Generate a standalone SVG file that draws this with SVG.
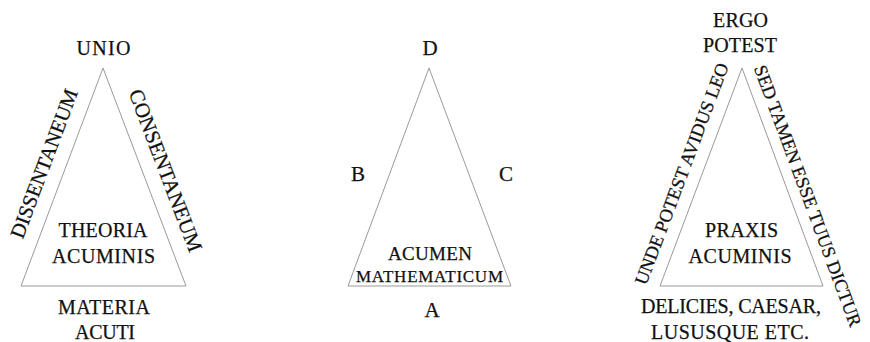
<svg xmlns="http://www.w3.org/2000/svg" width="870" height="342" viewBox="0 0 870 342">
<style>
  .tri { fill: none; stroke: #9a9a9a; stroke-width: 1; }
  text { font-family: "Liberation Serif", "Times New Roman", serif; fill: #111111; stroke: #111111; stroke-width: 0.25; font-size: 20px; text-anchor: middle; }
  .big { font-size: 21px; }
  .sm { font-size: 19px; }
  .xs { font-size: 17px; }
  .side { font-size: 18.5px; }
  .rot { font-size: 20.5px; }
</style>
<rect width="870" height="342" fill="#ffffff"/>
<g id="connectors">
  <polygon class="tri" points="103,68 21,286 186,286"/>
  <polygon class="tri" points="429,68 348,286 511,286"/>
  <polygon class="tri" points="742,68 660,286 823,286"/>
</g>
<g id="theoria">
  <text x="103.5" y="55" textLength="54" lengthAdjust="spacing">UNIO</text>
  <text class="rot" transform="translate(50.5,166) rotate(-69.4)" x="0" y="0">DISSENTANEUM</text>
  <text class="big" transform="translate(159,173) rotate(69.2)" x="0" y="0">CONSENTANEUM</text>
  <text x="103" y="237" textLength="89" lengthAdjust="spacing">THEORIA</text>
  <text x="103.5" y="263" textLength="103" lengthAdjust="spacing">ACUMINIS</text>
  <text x="104" y="314" textLength="92" lengthAdjust="spacing">MATERIA</text>
  <text x="105" y="339" textLength="60" lengthAdjust="spacing">ACUTI</text>
</g>
<g id="acumen">
  <text class="big" x="430" y="55">D</text>
  <text class="big" x="358" y="181">B</text>
  <text class="big" x="506" y="181">C</text>
  <text class="sm" x="430" y="260" textLength="84" lengthAdjust="spacing">ACUMEN</text>
  <text class="xs" x="429.5" y="281.5" textLength="147" lengthAdjust="spacing">MATHEMATICUM</text>
  <text class="big" x="432" y="317">A</text>
</g>
<g id="praxis">
  <text x="740.5" y="27" textLength="55" lengthAdjust="spacing">ERGO</text>
  <text x="740" y="52" textLength="74" lengthAdjust="spacing">POTEST</text>
  <text class="side" transform="translate(687.5,176) rotate(-69.4)" x="0" y="0">UNDE POTEST AVIDUS LEO</text>
  <text class="side" transform="translate(802,198) rotate(69.6)" x="0" y="0">SED TAMEN ESSE TUUS DICTUR</text>
  <text x="741.5" y="237" textLength="73" lengthAdjust="spacing">PRAXIS</text>
  <text x="740" y="263" textLength="103" lengthAdjust="spacing">ACUMINIS</text>
  <text x="731" y="313" textLength="180" lengthAdjust="spacing">DELICIES, CAESAR,</text>
  <text x="730" y="339" textLength="158" lengthAdjust="spacing">LUSUSQUE ETC.</text>
</g>
</svg>
